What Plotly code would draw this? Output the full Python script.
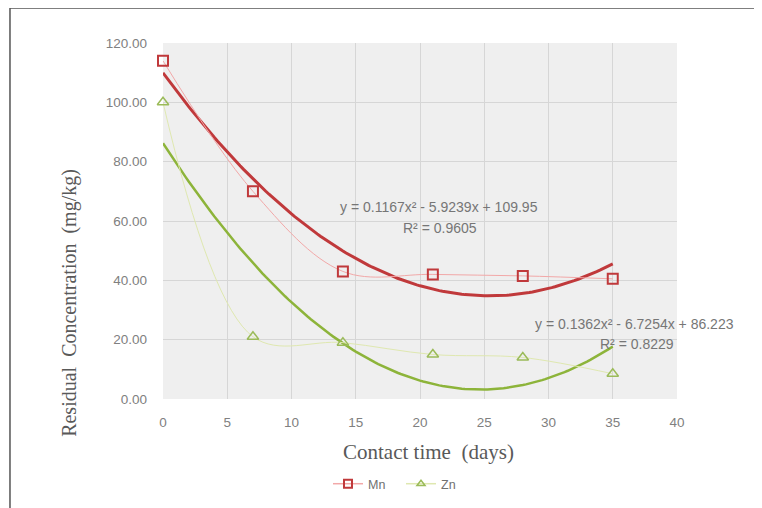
import numpy as np
import plotly.graph_objects as go

days = [0, 7, 14, 21, 28, 35]
mn = [114.0, 70.0, 43.0, 42.0, 41.5, 40.5]
zn = [100.0, 21.0, 19.0, 15.0, 14.0, 8.5]

mn_coef = [0.1167, -5.9239, 109.95]
zn_coef = [0.1362, -6.7254, 86.223]
mn_eq = "y = 0.1167x² - 5.9239x + 109.95"
mn_r2 = "R² = 0.9605"
zn_eq = "y = 0.1362x² - 6.7254x + 86.223"
zn_r2 = "R² = 0.8229"

y_ticks = [0, 20, 40, 60, 80, 100, 120]
x_ticks = [0, 5, 10, 15, 20, 25, 30, 35, 40]

MN_DARK, MN_LIGHT = "#c0393b", "#f2a8a8"
ZN_DARK, ZN_LIGHT = "#9bbb59", "#dfe8b0"

xt = np.linspace(0, 35, 141)

fig = go.Figure()

# trendlines
fig.add_trace(go.Scatter(x=xt, y=np.polyval(mn_coef, xt), mode="lines",
                         line=dict(color=MN_DARK, width=3), showlegend=False, hoverinfo="skip"))
fig.add_trace(go.Scatter(x=xt, y=np.polyval(zn_coef, xt), mode="lines",
                         line=dict(color="#8db43a", width=2.5), showlegend=False, hoverinfo="skip"))

# data series
fig.add_trace(go.Scatter(x=days, y=mn, name="Mn", mode="lines+markers", showlegend=False,
                         line=dict(color=MN_LIGHT, width=1, shape="spline", smoothing=1),
                         marker=dict(symbol="square-open", size=10, color=MN_DARK,
                                     line=dict(width=2, color=MN_DARK)),
                         cliponaxis=False))
fig.add_trace(go.Scatter(x=days, y=zn, name="Zn", mode="lines+markers", showlegend=False,
                         line=dict(color=ZN_LIGHT, width=1, shape="spline", smoothing=1),
                         marker=dict(symbol="triangle-up-open", size=10, color=ZN_DARK,
                                     line=dict(width=1.5, color=ZN_DARK)),
                         cliponaxis=False))

# legend entries (smaller legend symbols)
fig.add_trace(go.Scatter(x=[None], y=[None], name="Mn", mode="lines+markers",
                         line=dict(color=MN_LIGHT, width=1.5),
                         marker=dict(symbol="square-open", size=8, color=MN_DARK,
                                     line=dict(width=2, color=MN_DARK))))
fig.add_trace(go.Scatter(x=[None], y=[None], name="Zn", mode="lines+markers",
                         line=dict(color=ZN_LIGHT, width=1.5),
                         marker=dict(symbol="triangle-up-open", size=7, color=ZN_DARK,
                                     line=dict(width=1.5, color=ZN_DARK))))

ann_font = dict(size=14, color="#767676", family="Liberation Sans")
fig.add_annotation(x=21.5, y=64.6, text=mn_eq, showarrow=False, font=ann_font)
fig.add_annotation(x=21.55, y=57.8, text=mn_r2, showarrow=False, font=ann_font)
fig.add_annotation(x=36.73, y=25.4, text=zn_eq, showarrow=False, font=ann_font)
fig.add_annotation(x=36.9, y=18.6, text=zn_r2, showarrow=False, font=ann_font)

# axis titles
fig.add_annotation(xref="paper", yref="paper", x=0.517, y=-0.149,
                   xanchor="center", yanchor="middle",
                   text="Contact time  (days)", showarrow=False,
                   font=dict(size=21, color="#595959", family="Liberation Serif"))
fig.add_annotation(xref="paper", yref="paper", x=-0.181, y=0.27, textangle=-90,
                   xanchor="center", yanchor="middle",
                   text="Residual  Concentration  (mg/kg)", showarrow=False,
                   font=dict(size=20, color="#595959", family="Liberation Serif"))

# outer border
fig.add_shape(type="rect", xref="paper", yref="paper",
              x0=-0.2977, x1=1.25, y0=-0.4, y1=1.0983,
              line=dict(color="#555555", width=1.5), fillcolor="rgba(0,0,0,0)")

fig.update_layout(
    width=754, height=500,
    margin=dict(l=155, r=85, t=35, b=109, autoexpand=False),
    paper_bgcolor="white",
    plot_bgcolor="#efefef",
    showlegend=True,
    legend=dict(orientation="h", x=0.321, xanchor="left", y=-0.239, yanchor="middle",
                entrywidth=28, traceorder="normal",
                font=dict(size=12.5, color="#707070", family="Liberation Sans")),
    xaxis=dict(range=[0, 40], tickvals=x_ticks, showgrid=True, gridcolor="#d6d6d6",
               zeroline=False, showline=False, ticks="", ticklabelstandoff=13,
               automargin=False,
               tickfont=dict(size=13.5, color="#808080", family="Liberation Sans")),
    yaxis=dict(range=[0, 120], tickvals=y_ticks, tickformat=".2f", showgrid=True,
               gridcolor="#d6d6d6", zeroline=False, showline=False, ticks="",
               ticklabelstandoff=15, automargin=False,
               tickfont=dict(size=13.5, color="#808080", family="Liberation Sans")),
)

fig.write_html("out.html")
